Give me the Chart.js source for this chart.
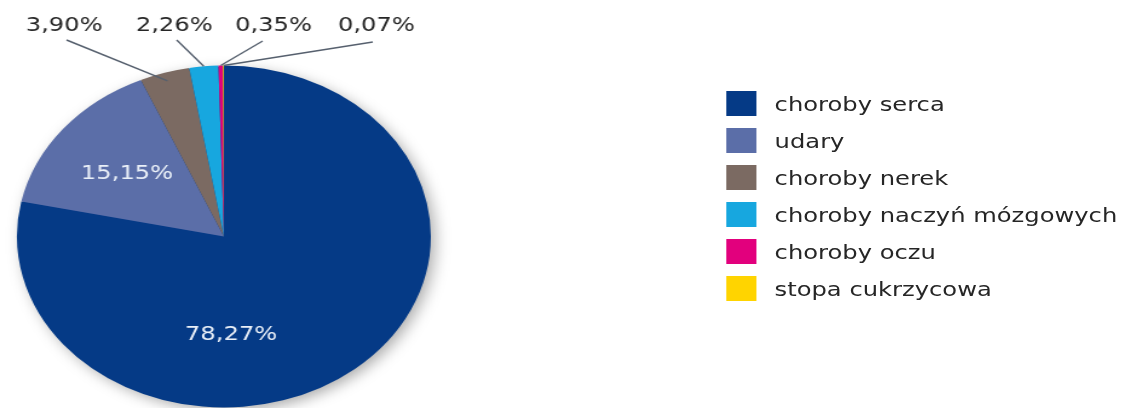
<!DOCTYPE html>
<html>
<head>
<meta charset="utf-8">
<script src="https://cdn.jsdelivr.net/npm/chart.js@4/dist/chart.umd.min.js"></script>
<style>
  html, body { margin: 0; padding: 0; background: #fff; overflow: hidden; }
  /* the source picture is stretched sideways, so draw at 932px and widen */
  #stage { position: absolute; left: 0; top: 0; width: 932px; height: 408px; transform: scaleX(1.2103); transform-origin: 0 0; }
  #chart-box { position: absolute; left: 0; top: 0; width: 932px; height: 408px; }
  #legend { position: absolute; left: 600px; top: 91px; font-family: "DejaVu Sans", sans-serif; font-size: 20px; color: #262626; }
  #legend .row { display: flex; align-items: center; height: 37px; }
  #legend .box { width: 25px; height: 25px; margin-right: 15px; margin-top: -12px; }
  #legend .txt { margin-top: -12px; }
</style>
</head>
<body>
<div id="stage">
  <div id="chart-box"><canvas id="chart-pie"></canvas></div>
  <div id="legend"></div>
</div>
<script>
const labels = ["choroby serca", "udary", "choroby nerek", "choroby naczyń mózgowych", "choroby oczu", "stopa cukrzycowa"];
const values = [78.27, 15.15, 3.90, 2.26, 0.35, 0.07];
const colors = ["#053a86", "#5b6ea8", "#7b6a62", "#17a7df", "#e2007d", "#ffd400"];

const fmtPct = (n) => n.toFixed(2).replace(".", ",") + "%";

// where each value label sits: inside the slice, or up top with a leader line
const spots = [
  { inside: true, dx: 0.035, dy: 0.576 },
  { inside: true, dx: -0.468, dy: -0.365 },
  { tx: 53, ty: 26, lx: 55, ly: 40, r: 0.95 },
  { tx: 144, ty: 26, lx: 146, ly: 40, r: 1.0 },
  { tx: 226, ty: 26, lx: 217, ly: 41, r: 1.0 },
  { tx: 311, ty: 26, lx: 308, ly: 42, r: 1.0 },
];

const pieShadow = {
  id: "pieShadow",
  beforeDatasetsDraw(chart) {
    const arc = chart.getDatasetMeta(0).data[0];
    if (!arc) return;
    const { x, y, outerRadius } = arc.getProps(["x", "y", "outerRadius"], true);
    const ctx = chart.ctx;
    ctx.save();
    ctx.shadowColor = "rgba(0,0,0,0.35)";
    ctx.shadowBlur = 14;
    ctx.shadowOffsetX = 4;
    ctx.shadowOffsetY = 4;
    ctx.fillStyle = colors[0];
    ctx.beginPath();
    ctx.arc(x, y, outerRadius - 1, 0, Math.PI * 2);
    ctx.fill();
    ctx.restore();
  },
};

const pctLabels = {
  id: "pctLabels",
  afterDatasetsDraw(chart) {
    const ctx = chart.ctx;
    const meta = chart.getDatasetMeta(0);
    ctx.save();
    ctx.font = '20px "DejaVu Sans"';
    ctx.textAlign = "center";
    ctx.textBaseline = "middle";
    meta.data.forEach((arc, i) => {
      const s = spots[i];
      if (!s) return;
      const { x, y, startAngle, endAngle, outerRadius } = arc.getProps(["x", "y", "startAngle", "endAngle", "outerRadius"], true);
      const txt = fmtPct(values[i]);
      if (s.inside) {
        ctx.fillStyle = "#eaf0f8";
        ctx.fillText(txt, x + s.dx * outerRadius, y + s.dy * outerRadius);
        return;
      }
      const mid = (startAngle + endAngle) / 2;
      ctx.strokeStyle = "#56606e";
      ctx.lineWidth = 1.4;
      ctx.beginPath();
      ctx.moveTo(s.lx, s.ly);
      ctx.lineTo(x + Math.cos(mid) * outerRadius * s.r, y + Math.sin(mid) * outerRadius * s.r);
      ctx.stroke();
      ctx.fillStyle = "#262626";
      ctx.fillText(txt, s.tx, s.ty);
    });
    ctx.restore();
  },
};

const chart = new Chart(document.getElementById("chart-pie"), {
  type: "pie",
  data: {
    labels,
    datasets: [{ data: values, backgroundColor: colors, borderWidth: 0 }],
  },
  options: {
    responsive: true,
    maintainAspectRatio: false,
    animation: false,
    layout: { padding: { left: 14, top: 65, right: 576, bottom: 0 } },
    plugins: { legend: { display: false }, tooltip: { enabled: false } },
  },
  plugins: [pieShadow, pctLabels],
});

// legend built from the chart's own legend items
const items = Chart.overrides.pie.plugins.legend.labels.generateLabels(chart);
document.getElementById("legend").innerHTML = items.map((it) =>
  `<div class="row"><span class="box" style="background:${it.fillStyle}"></span><span class="txt">${it.text}</span></div>`
).join("");
</script>
</body>
</html>
